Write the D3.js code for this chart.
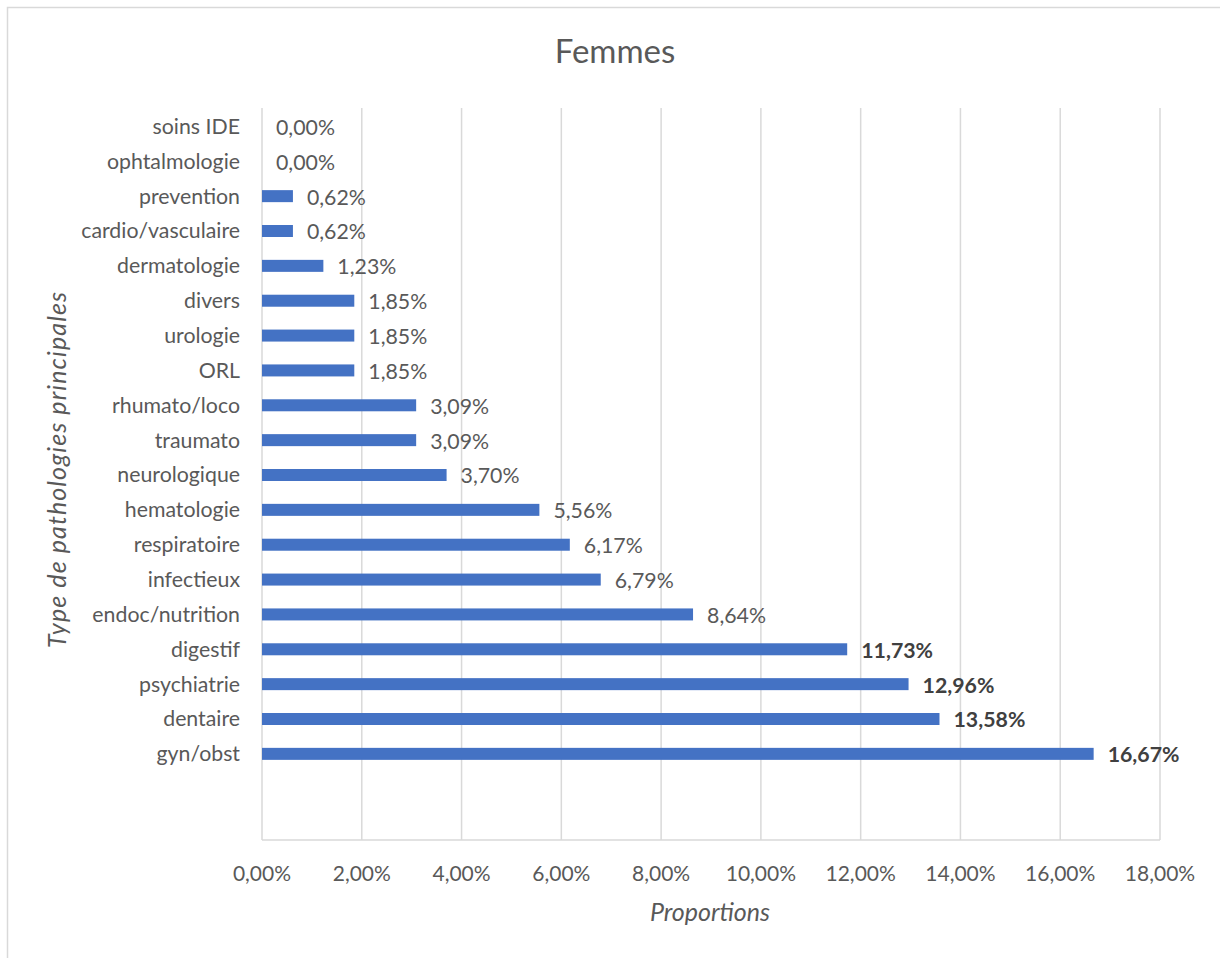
<!DOCTYPE html>
<html>
<head>
<meta charset="utf-8">
<script src="https://cdn.jsdelivr.net/npm/d3@7"></script>
<style>
  html, body { margin: 0; padding: 0; background: #fff; }
  svg { display: block; }
  text { font-family: Lato, "Open Sans", sans-serif; }
</style>
</head>
<body>
<script>
// ---- data ----
const categories = ["soins IDE","ophtalmologie","prevention","cardio/vasculaire","dermatologie","divers","urologie","ORL","rhumato/loco","traumato","neurologique","hematologie","respiratoire","infectieux","endoc/nutrition","digestif","psychiatrie","dentaire","gyn/obst"];
const values = [0.00, 0.00, 0.62, 0.62, 1.23, 1.85, 1.85, 1.85, 3.09, 3.09, 3.70, 5.56, 6.17, 6.79, 8.64, 11.73, 12.96, 13.58, 16.67];
const boldLabels = ["digestif","psychiatrie","dentaire","gyn/obst"];
const xTicks = [0, 2, 4, 6, 8, 10, 12, 14, 16, 18];
const emptySlots = ["__blank1", "__blank2"];
const chartTitle = "Femmes";
const xTitle = "Proportions";
const yTitle = "Type de pathologies principales";

// ---- layout ----
const W = 1220, H = 958;
const pLeft = 262, pRight = 1160, pTop = 108, pBottom = 840;
const fmt = v => d3.format(".2f")(v).replace(".", ",") + "%";

const svg = d3.select("body").append("svg").attr("width", W).attr("height", H);

// outer chart border
svg.append("rect").attr("x", 7.5).attr("y", 7.5).attr("width", W + 10).attr("height", H + 10)
  .attr("fill", "#fff").attr("stroke", "#d9d9d9").attr("stroke-width", 1.5);

const x = d3.scaleLinear().domain([0, 18]).range([pLeft, pRight]);
const y = d3.scaleBand().domain(categories.concat(emptySlots)).range([pTop, pBottom]);
const barH = 12;

// gridlines
svg.append("g").selectAll("line").data(xTicks).join("line")
  .attr("x1", d => x(d)).attr("x2", d => x(d))
  .attr("y1", pTop).attr("y2", pBottom)
  .attr("stroke", "#d9d9d9").attr("stroke-width", 1.5);

// x axis line
svg.append("line").attr("x1", pLeft).attr("x2", pRight).attr("y1", pBottom).attr("y2", pBottom)
  .attr("stroke", "#d9d9d9").attr("stroke-width", 1.5);

// x tick labels
svg.append("g").selectAll("text").data(xTicks).join("text")
  .attr("x", d => x(d)).attr("y", 881)
  .attr("text-anchor", "middle").attr("fill", "#595959").attr("font-size", 21)
  .text(d => fmt(d));

// bars
svg.append("g").selectAll("rect").data(categories).join("rect")
  .attr("x", x(0)).attr("y", (d) => y(d) + y.bandwidth() / 2 - barH / 2 + 1)
  .attr("width", (d, i) => x(values[i]) - x(0)).attr("height", barH)
  .attr("fill", "#4472c4");

// category labels
svg.append("g").selectAll("text").data(categories).join("text")
  .attr("x", 240).attr("y", d => y(d) + y.bandwidth() / 2 + 1)
  .attr("dy", "0.35em")
  .attr("text-anchor", "end").attr("fill", "#595959").attr("font-size", 21.3)
  .text(d => d);

// value labels
svg.append("g").selectAll("text").data(categories).join("text")
  .attr("x", (d, i) => x(values[i]) + 14).attr("y", d => y(d) + y.bandwidth() / 2 + 2)
  .attr("dy", "0.35em")
  .attr("fill", d => boldLabels.includes(d) ? "#404040" : "#595959")
  .attr("font-weight", d => boldLabels.includes(d) ? "bold" : "normal")
  .attr("font-size", 21.3)
  .text((d, i) => fmt(values[i]));

// title
svg.append("text").attr("x", 615).attr("y", 63).attr("text-anchor", "middle")
  .attr("fill", "#595959").attr("font-size", 33).text(chartTitle);

// x title
svg.append("text").attr("x", 710).attr("y", 921).attr("text-anchor", "middle")
  .attr("fill", "#595959").attr("font-size", 25).attr("font-style", "italic").text(xTitle);

// y title
svg.append("text").attr("transform", "translate(66,470) rotate(-90)").attr("text-anchor", "middle")
  .attr("fill", "#595959").attr("font-size", 25).attr("font-style", "italic")
  .attr("textLength", 356).attr("lengthAdjust", "spacing").text(yTitle);
</script>
</body>
</html>
